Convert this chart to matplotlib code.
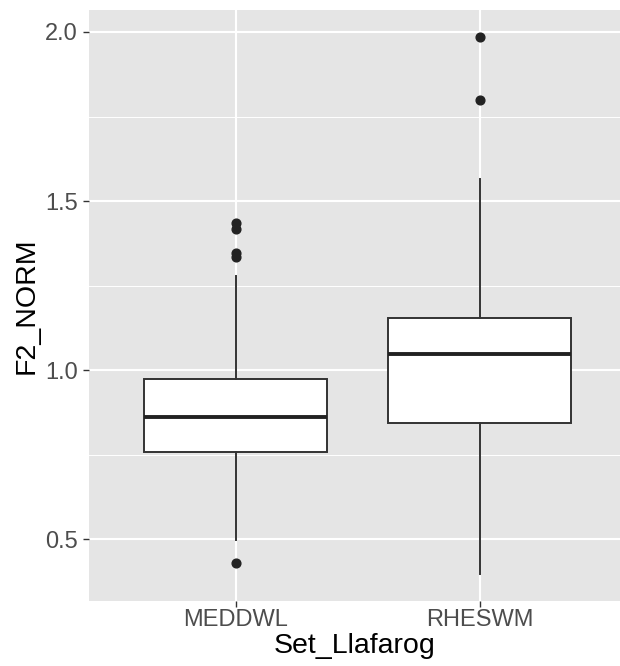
import matplotlib
matplotlib.use("Agg")
import matplotlib.pyplot as plt
from matplotlib.ticker import FixedLocator

categories = ["MEDDWL", "RHESWM"]
q1 = [0.757, 0.843]
median = [0.862, 1.047]
q3 = [0.973, 1.154]
whisker_low = [0.497, 0.396]
whisker_high = [1.278, 1.565]
outliers = [[1.435, 1.417, 1.346, 1.334, 0.429], [1.985, 1.799]]
y_ticks = [0.5, 1.0, 1.5, 2.0]
y_tick_labels = ["0.5", "1.0", "1.5", "2.0"]
minor_ticks = [0.75, 1.25, 1.75]

plt.rcParams['font.family'] = ['Liberation Sans', 'DejaVu Sans']

fig = plt.figure(figsize=(6.2, 6.66), dpi=100)
ax = fig.add_axes([89/620, 65/666, 531/620, 591/666])
ax.set_facecolor("#E5E5E5")
for s in ax.spines.values():
    s.set_visible(False)

stats = []
for i, c in enumerate(categories):
    stats.append(dict(label=c, q1=q1[i], med=median[i], q3=q3[i],
                      whislo=whisker_low[i], whishi=whisker_high[i], fliers=outliers[i]))

positions = [1, 2]
ax.bxp(stats, positions=positions, widths=0.75, patch_artist=True, showcaps=False,
       boxprops=dict(facecolor="white", edgecolor="#333333", linewidth=1.4),
       medianprops=dict(color="#222222", linewidth=2.8),
       whiskerprops=dict(color="#333333", linewidth=1.4),
       flierprops=dict(marker="o", markerfacecolor="#222222", markeredgecolor="#222222",
                       markersize=6.3),
       zorder=3)

ax.set_xlim(0.4, 2.574)
ax.set_ylim(0.317, 2.065)
ax.set_yticks(y_ticks)
ax.set_yticklabels(y_tick_labels)
ax.yaxis.set_minor_locator(FixedLocator(minor_ticks))
ax.set_xticks(positions)
ax.set_xticklabels(categories)

ax.grid(which="major", color="white", linewidth=1.5, zorder=0)
ax.grid(which="minor", axis="y", color="white", linewidth=0.7, zorder=0)
ax.set_axisbelow(True)
ax.tick_params(which="major", length=4, width=1, color="#333333", labelsize=17,
               labelcolor="#4D4D4D")
ax.tick_params(axis="y", pad=4)
ax.tick_params(axis="x", pad=2)
ax.tick_params(which="minor", length=0)

ax.set_xlabel("Set_Llafarog", fontsize=20.5, color="black", labelpad=1)
ax.set_ylabel("F2_NORM", fontsize=20.5, color="black", labelpad=4)

fig.savefig("out.png", dpi=100)
